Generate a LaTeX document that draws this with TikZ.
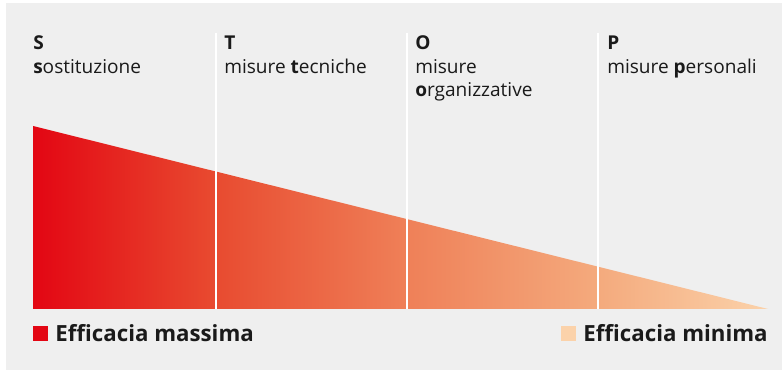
\documentclass[tikz,border=0pt]{standalone}
\usepackage{fontspec}
\setmainfont{Open Sans}
\usetikzlibrary{positioning}

\definecolor{bggray}{RGB}{239,239,239}
\definecolor{stopred}{RGB}{227,6,19}
\definecolor{stoporange}{RGB}{232,75,48}
\definecolor{stopsalmon}{RGB}{239,128,88}
\definecolor{stoplight}{RGB}{244,170,125}
\definecolor{stoppeach}{RGB}{251,210,170}
\definecolor{txtdark}{RGB}{26,26,26}

\pgfdeclarehorizontalshading{stopfade}{100bp}{
  color(0bp)=(stopred); color(25bp)=(stopred);
  color(37.45bp)=(stoporange); color(50.45bp)=(stopsalmon);
  color(63.45bp)=(stoplight); color(75bp)=(stoppeach);
  color(100bp)=(stoppeach)}

\begin{document}
\begin{tikzpicture}[
    x=0.75pt, y=0.75pt,
    letter/.style={anchor=base west, inner sep=0pt, text=txtdark, font=\fontsize{14.3}{17}\selectfont\bfseries},
    desc/.style={anchor=base west, inner sep=0pt, align=left, text=txtdark, font=\fontsize{14.3}{17.3}\selectfont},
    legsq/.style={rectangle, inner sep=0pt, minimum size=11.25pt},
    legtext/.style={inner sep=0pt, text=txtdark, font=\fontsize{16.7}{20}\selectfont\bfseries},
    divider/.style={draw=white, line width=1.1pt}
]

\useasboundingbox (0,0) rectangle (782,370);
\fill[bggray] (6,0) rectangle (782,367);

\shade[shading=stopfade] (33,61) -- (33,244) -- (768,61) -- cycle;

\foreach \xpos in {216,407,598}
  \draw[divider] (\xpos,61) -- (\xpos,337);

\node[letter] (s) at (33,320) {S};
\node[desc] (sdesc) at (33,296) {\textbf{s}ostituzione};
\node[letter] (t) at (224,320) {T};
\node[desc] (tdesc) at (224,296) {misure \textbf{t}ecniche};
\node[letter] (o) at (415,320) {O};
\node[desc] (odesc) at (415,273) {misure\\\textbf{o}rganizzative};
\node[letter] (p) at (607,320) {P};
\node[desc] (pdesc) at (607,296) {misure \textbf{p}ersonali};

\node[legsq, fill=stopred, anchor=south west] (maxsq) at (33,29) {};
\node[legtext, right=5pt of maxsq] (maxtext) {Efficacia massima};
\node[legsq, fill=stoppeach, anchor=south west] (minsq) at (561,29) {};
\node[legtext, right=5pt of minsq] (mintext) {Efficacia minima};

\end{tikzpicture}
\end{document}
